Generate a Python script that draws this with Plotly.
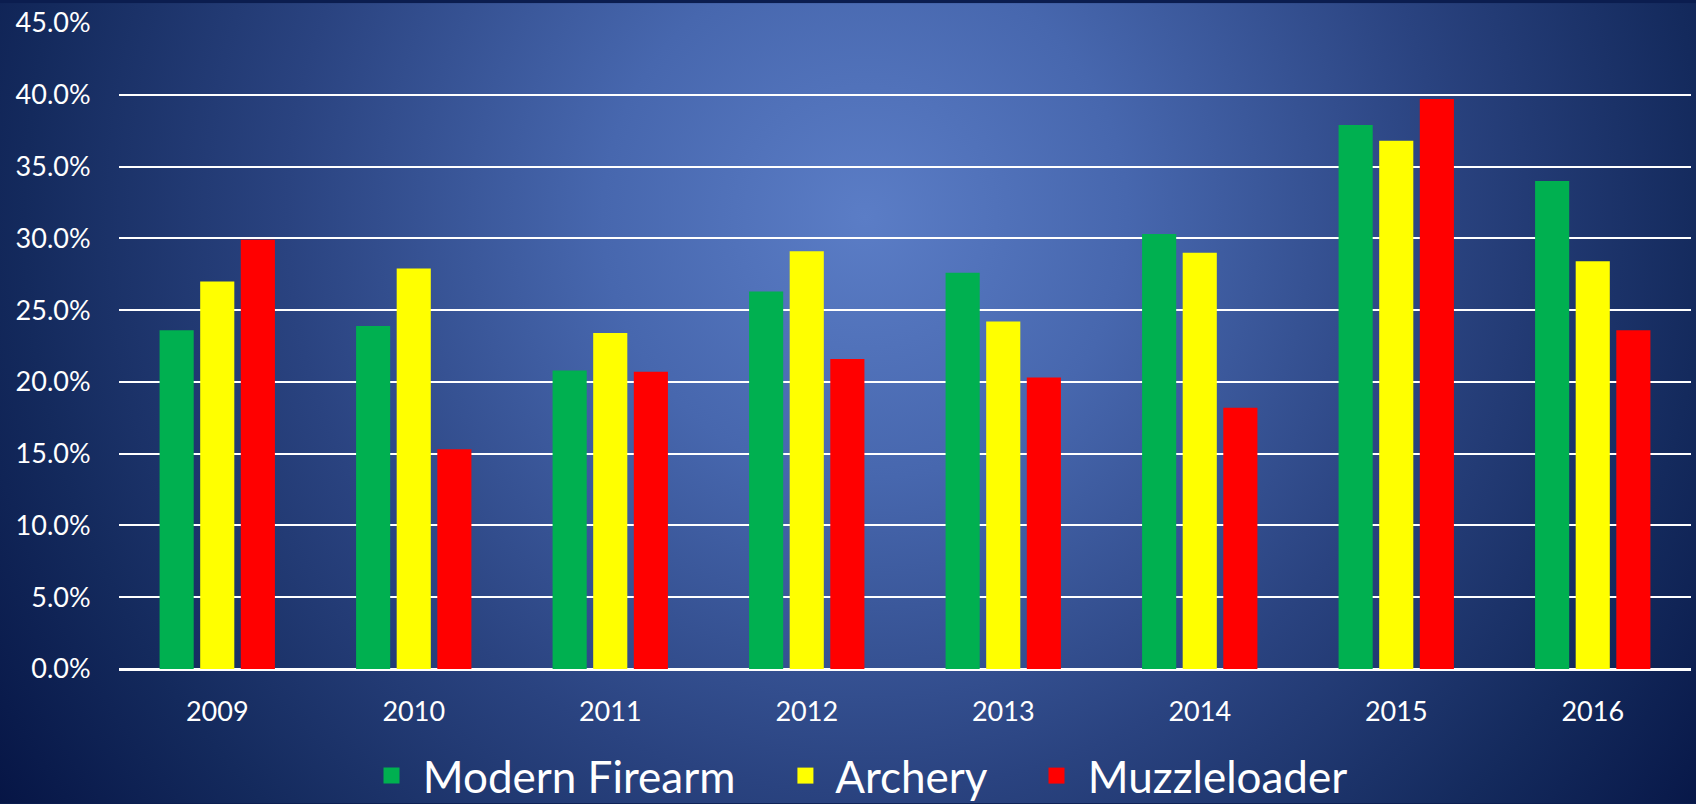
import base64
import plotly.graph_objects as go

years = ["2009", "2010", "2011", "2012", "2013", "2014", "2015", "2016"]
modern_firearm = [23.6, 23.9, 20.8, 26.3, 27.6, 30.3, 37.9, 34.0]
archery = [27.0, 27.9, 23.4, 29.1, 24.2, 29.0, 36.8, 28.4]
muzzleloader = [29.9, 15.3, 20.7, 21.6, 20.3, 18.2, 39.7, 23.6]

series_names = ["Modern Firearm", "Archery", "Muzzleloader"]
series_colors = ["#00B050", "#FFFF00", "#FF0000"]
legend_padding = [4, 4, 0]  # trailing non-breaking spaces to space legend entries
y_ticks = [0, 5, 10, 15, 20, 25, 30, 35, 40, 45]
y_tick_labels = ["0.0%", "5.0%", "10.0%", "15.0%", "20.0%", "25.0%", "30.0%", "35.0%", "40.0%", "45.0%"]

W, H = 1696, 804
ML, MR, MT, MB = 119, 5, 20, 135
FONT = "Lato, Carlito, Calibri, sans-serif"

svg = f'''<svg xmlns="http://www.w3.org/2000/svg" width="{W}" height="{H}" viewBox="0 0 {W} {H}">
<defs><radialGradient id="g" gradientUnits="userSpaceOnUse" cx="865" cy="215" r="1050">
<stop offset="0" stop-color="#5b7dc6"/>
<stop offset="0.25" stop-color="#4767ae"/>
<stop offset="0.55" stop-color="#2a4380"/>
<stop offset="0.8" stop-color="#142a5d"/>
<stop offset="1" stop-color="#061545"/>
</radialGradient></defs>
<rect x="0" y="0" width="{W}" height="{H}" fill="url(#g)"/></svg>'''
bg_src = "data:image/svg+xml;base64," + base64.b64encode(svg.encode()).decode()

pw = W - ML - MR
ph = H - MT - MB

fig = go.Figure()
for name, vals, col in zip(series_names, [modern_firearm, archery, muzzleloader], series_colors):
    fig.add_trace(go.Bar(x=years, y=vals, name=name, marker=dict(color=col, line=dict(width=0)),
                         showlegend=False, legendgroup=name))
for name, col, pad in zip(series_names, series_colors, legend_padding):
    fig.add_trace(go.Scatter(x=[None], y=[None], mode="markers",
                             name="\u00a0" + name + "\u00a0" * pad,
                             legendgroup=name,
                             marker=dict(symbol="square", size=16, color=col), showlegend=True))

fig.update_layout(
    width=W, height=H,
    margin=dict(l=ML, r=MR, t=MT, b=MB, pad=0),
    paper_bgcolor="#0b1d4f",
    plot_bgcolor="rgba(0,0,0,0)",
    barmode="group",
    bargap=0.38,
    bargroupgap=0.16,
    font=dict(family=FONT, color="white"),
    images=[dict(source=bg_src, xref="paper", yref="paper",
                 x=-ML / pw, y=1 + MT / ph, sizex=W / pw, sizey=H / ph,
                 xanchor="left", yanchor="top", sizing="stretch", layer="below")],
    xaxis=dict(type="category", showgrid=False, showline=True, linecolor="white", linewidth=2,
               ticks="outside", ticklen=18, tickcolor="rgba(0,0,0,0)",
               tickfont=dict(size=27, color="white", family=FONT)),
    yaxis=dict(range=[0, 45], tickvals=y_ticks, ticktext=y_tick_labels,
               showgrid=True, gridcolor="white", gridwidth=2, zeroline=True, zerolinecolor="white",
               zerolinewidth=2, showline=False,
               ticks="outside", ticklen=22, tickcolor="rgba(0,0,0,0)",
               tickfont=dict(size=27, color="white", family=FONT)),
    legend=dict(orientation="h", xref="container", yref="container", x=371.5 / W, xanchor="left",
                y=1 - 776 / H, yanchor="middle", bgcolor="rgba(0,0,0,0)",
                font=dict(size=44, color="white", family=FONT)),
)

fig.write_html("out.html", config={"displayModeBar": False},
               post_script="document.body.style.margin='0';document.body.style.overflow='hidden';")
